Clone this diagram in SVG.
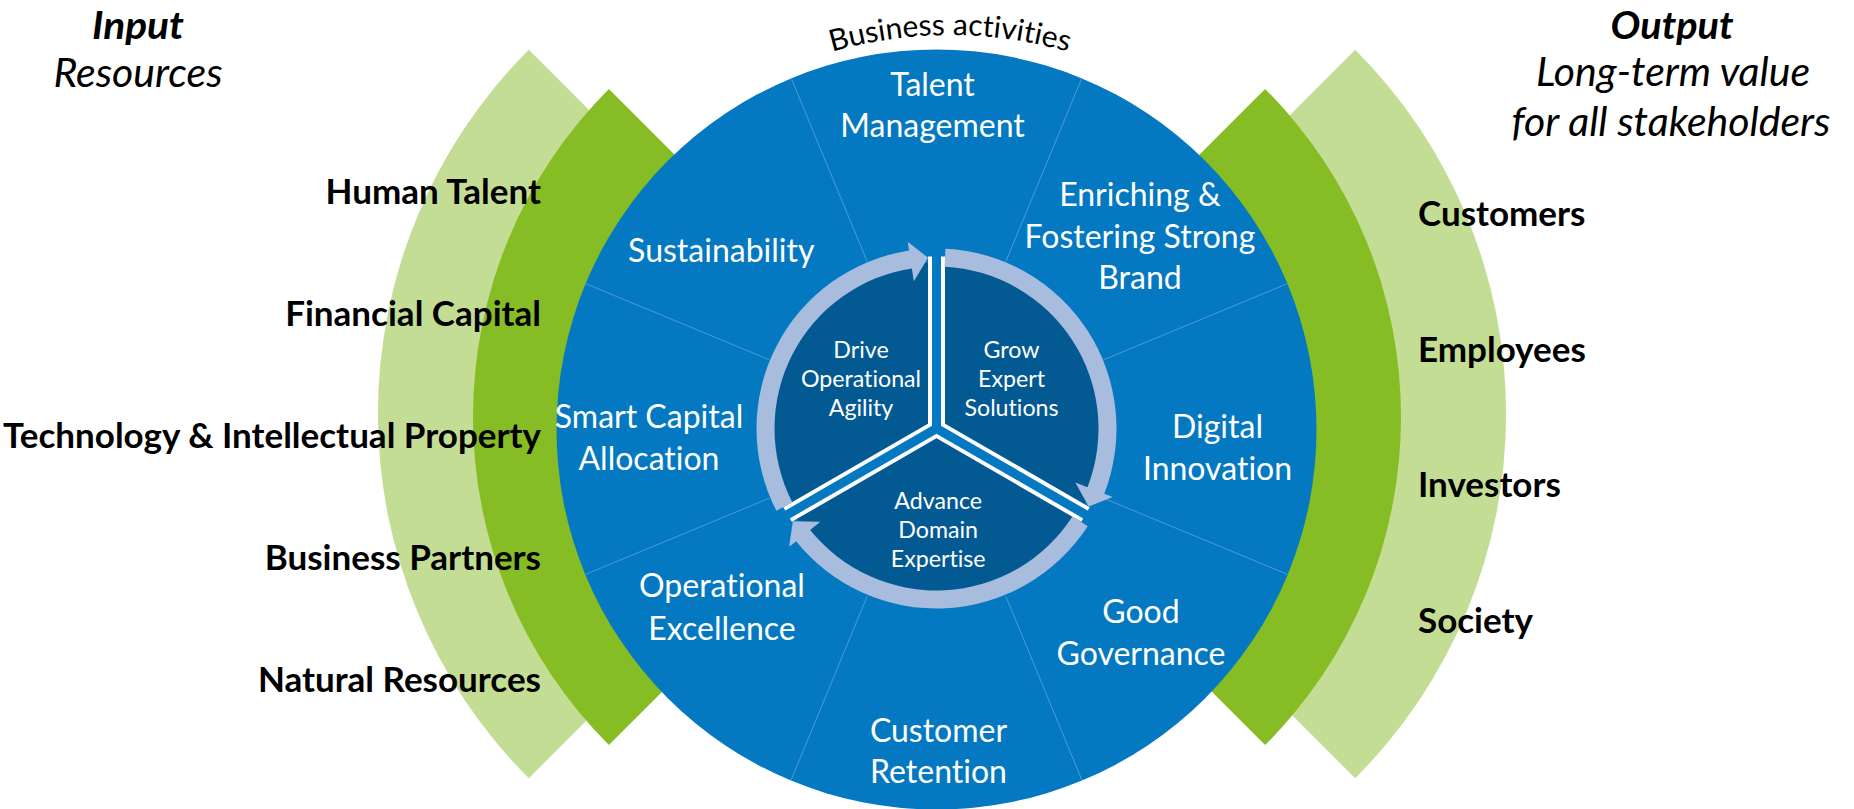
<svg xmlns="http://www.w3.org/2000/svg" width="1854" height="809" viewBox="0 0 1854 809">
<style>
  text { font-family: Lato, "Liberation Sans", sans-serif; font-variant-ligatures: none; }
  .w { fill: #ffffff; font-size: 32px; text-anchor: middle; }
  .in { fill: #ffffff; font-size: 23.2px; text-anchor: middle; }
  .b { fill: #000000; font-size: 35px; font-weight: 700; }
  .bl { text-anchor: end; }
  .br { text-anchor: start; }
  .t { fill: #000000; font-size: 41px; font-style: italic; text-anchor: middle; }
  .th { font-size: 38px; font-weight: 700; }
  .lg { fill: #C4DD95; }
  .dg { fill: #86BC24; }
  .blue { fill: #0479C1; }
  .dark { fill: #035A93; }
  .div { stroke: #4E9BD6; stroke-width: 1; fill: none; }
  .arrow { fill: #A8BCDD; }
</style>
<defs>
  <path id="arr" d="M945.45,248.72 A180,180 0 0 1 1104.26,493.74 L1112.65,497.00 L1088.66,506.53 L1075.37,482.50 L1087.49,487.22 A162,162 0 0 0 944.55,266.70 Z"/>
  <path id="topArc" d="M737.5,92 A425,425 0 0 1 1162.5,92"/>
</defs>

<g id="input-band">
  <path class="lg" d="M893,414 L528.8,49.8 A515,515 0 0 0 528.8,778.2 Z"/>
  <path class="dg" d="M937,417 L608.9,88.9 A464,464 0 0 0 608.9,745.1 Z"/>
</g>
<g id="output-band">
  <path class="lg" d="M991,414 L1355.2,49.8 A515,515 0 0 1 1355.2,778.2 Z"/>
  <path class="dg" d="M937,417 L1265.1,88.9 A464,464 0 0 1 1265.1,745.1 Z"/>
</g>

<g id="business-activities">
  <circle class="blue" cx="936.5" cy="429.5" r="380"/>
  <g class="div">
    <line x1="1103.72" y1="498.27" x2="1287.57" y2="574.42"/>
    <line x1="1005.77" y1="596.22" x2="1081.92" y2="780.07"/>
    <line x1="867.23" y1="596.22" x2="791.08" y2="780.07"/>
    <line x1="769.28" y1="498.27" x2="585.43" y2="574.42"/>
    <line x1="769.28" y1="359.73" x2="585.43" y2="283.58"/>
    <line x1="867.23" y1="261.78" x2="791.08" y2="77.93"/>
    <line x1="1005.77" y1="261.78" x2="1081.92" y2="77.93"/>
    <line x1="1103.72" y1="359.73" x2="1287.57" y2="283.58"/>
  </g>
  <text font-size="30" fill="#000000"><textPath href="#topArc" startOffset="50%" text-anchor="middle">Business activities</textPath></text>
</g>

<g id="talent-management"><text class="w" x="932.5" y="95.7">Talent</text><text class="w" x="932.5" y="136.7">Management</text></g>
<g id="enriching-brand"><text class="w" x="1140" y="205.5">Enriching &amp;</text><text class="w" x="1140" y="247.5">Fostering Strong</text><text class="w" x="1140" y="289.3">Brand</text></g>
<g id="digital-innovation"><text class="w" x="1217.5" y="438">Digital</text><text class="w" x="1217.5" y="480">Innovation</text></g>
<g id="good-governance"><text class="w" x="1141" y="623.3">Good</text><text class="w" x="1141" y="665">Governance</text></g>
<g id="customer-retention"><text class="w" x="938.5" y="742.3">Customer</text><text class="w" x="938.5" y="783.3">Retention</text></g>
<g id="operational-excellence"><text class="w" x="722" y="597.3">Operational</text><text class="w" x="722" y="640">Excellence</text></g>
<g id="smart-capital"><text class="w" x="649" y="428">Smart Capital</text><text class="w" x="649" y="470">Allocation</text></g>
<g id="sustainability"><text class="w" x="721.3" y="261.7">Sustainability</text></g>

<g id="core">
  <circle class="dark" cx="936.5" cy="428.5" r="166"/>
  <path d="M936.5,428.5 V256.5 M936.5,428.5 L1085.45,514.5 M936.5,428.5 L787.55,514.5" stroke="#ffffff" stroke-width="17" fill="none"/>
  <path d="M936.5,428.5 V243.5 M936.5,428.5 L1096.7,521 M936.5,428.5 L776.3,521" stroke="#0479C1" stroke-width="9" fill="none"/>
</g>

<g id="connectors">
  <use class="arrow" href="#arr"/>
  <use class="arrow" href="#arr" transform="rotate(120 936.5 428.5)"/>
  <use class="arrow" href="#arr" transform="rotate(240 936.5 428.5)"/>
</g>

<g id="drive-agility"><text class="in" x="861" y="358">Drive</text><text class="in" x="861" y="387">Operational</text><text class="in" x="861" y="416">Agility</text></g>
<g id="grow-solutions"><text class="in" x="1011.5" y="358">Grow</text><text class="in" x="1011.5" y="387">Expert</text><text class="in" x="1011.5" y="416">Solutions</text></g>
<g id="advance-expertise"><text class="in" x="938.2" y="509">Advance</text><text class="in" x="938.2" y="538">Domain</text><text class="in" x="938.2" y="567">Expertise</text></g>

<g id="input-title"><text class="t th" x="138" y="38.5" textLength="92" lengthAdjust="spacingAndGlyphs">Input</text><text class="t" x="138" y="87.3">Resources</text></g>
<g id="output-title"><text class="t th" x="1672" y="38.5" textLength="123" lengthAdjust="spacingAndGlyphs">Output</text><text class="t" x="1673" y="86">Long-term value</text><text class="t" x="1671" y="136">for all stakeholders</text></g>

<g id="inputs">
  <text class="b bl" x="541" y="204">Human Talent</text>
  <text class="b bl" x="541" y="326">Financial Capital</text>
  <text class="b bl" x="541" y="448">Technology &amp; Intellectual Property</text>
  <text class="b bl" x="541" y="570">Business Partners</text>
  <text class="b bl" x="541" y="692">Natural Resources</text>
</g>
<g id="outputs">
  <text class="b br" x="1418" y="226">Customers</text>
  <text class="b br" x="1418" y="361.5">Employees</text>
  <text class="b br" x="1418" y="496.5">Investors</text>
  <text class="b br" x="1418" y="632.5">Society</text>
</g>
</svg>
